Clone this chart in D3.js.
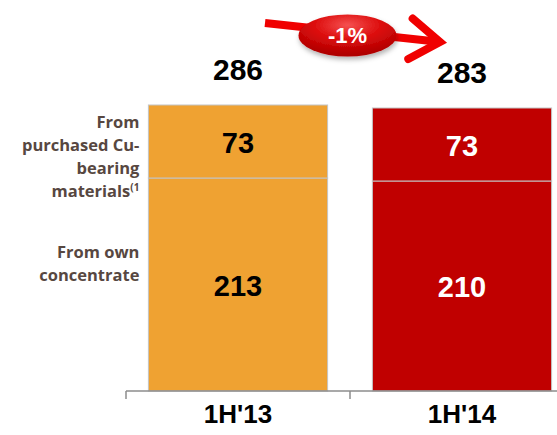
<!DOCTYPE html>
<html>
<head>
<meta charset="utf-8">
<script src="https://cdn.jsdelivr.net/npm/d3@7"></script>
<style>
  body { margin: 0; background: #fff; }
  svg { display: block; }
</style>
</head>
<body>
<svg id="chart" width="557" height="435"></svg>
<script>
// data
var categories = ["1H'13", "1H'14"];
var fromPurchased = [73, 73];
var fromOwn = [213, 210];
var totals = [286, 283];
var seriesLabels = [
  ["From", "purchased Cu-", "bearing", "materials"],
  ["From own", "concentrate"]
];

var barColors = ['#EFA232', '#C00000'];
var labelColors = ['#000', '#fff'];

var svg = d3.select('#chart');

var x = d3.scaleBand()
    .domain(categories)
    .range([126, 574])
    .paddingInner(0.2)
    .paddingOuter(0.1);

var y = d3.scaleLinear()
    .domain([0, 300])
    .range([391, 91]);

var bw = x.bandwidth();

// stacked segments
var rows = categories.map(function(c, i){
    return {cat: c, i: i, own: fromOwn[i], purch: fromPurchased[i], total: totals[i]};
});

var g = svg.append('g');

g.selectAll('.own')
    .data(rows)
    .enter()
    .append('rect')
    .attr('class', 'own')
    .attr('x', function(d){ return x(d.cat); })
    .attr('y', function(d){ return y(d.own); })
    .attr('width', bw)
    .attr('height', function(d){ return y(0) - y(d.own); })
    .attr('fill', function(d){ return barColors[d.i]; })
    .attr('stroke', '#c4c4c4')
    .attr('stroke-width', 1);

g.selectAll('.purch')
    .data(rows)
    .enter()
    .append('rect')
    .attr('class', 'purch')
    .attr('x', function(d){ return x(d.cat); })
    .attr('y', function(d){ return y(d.own + d.purch); })
    .attr('width', bw)
    .attr('height', function(d){ return y(d.own) - y(d.own + d.purch); })
    .attr('fill', function(d){ return barColors[d.i]; })
    .attr('stroke', '#c4c4c4')
    .attr('stroke-width', 1);

// segment labels
function segLabel(cls, val, mid){
    g.selectAll('.' + cls)
	.data(rows)
	.enter()
	.append('text')
	.attr('class', cls)
	.attr('x', function(d){ return x(d.cat) + bw / 2; })
	.attr('y', mid)
	.attr('dy', '0.36em')
	.attr('text-anchor', 'middle')
	.style('font', 'bold 29px "Liberation Sans", Arial, sans-serif')
	.attr('fill', function(d){ return labelColors[d.i]; })
	.text(val);
}
segLabel('own-lbl', function(d){ return d.own; },
	 function(d){ return (y(0) + y(d.own)) / 2 + 1; });
segLabel('purch-lbl', function(d){ return d.purch; },
	 function(d){ return (y(d.own) + y(d.own + d.purch)) / 2 + 1.5; });

// totals
g.selectAll('.total')
    .data(rows)
    .enter()
    .append('text')
    .attr('class', 'total')
    .attr('x', function(d){ return x(d.cat) + bw / 2; })
    .attr('y', function(d){ return y(d.total) - 25; })
    .attr('text-anchor', 'middle')
    .style('font', 'bold 30px "Liberation Sans", Arial, sans-serif')
    .attr('fill', '#000')
    .text(function(d){ return d.total; });

// axis
var axisY = y(0);
var step = x.step();
var boundaries = d3.range(categories.length + 1).map(function(i){ return x.range()[0] + i * step; });

svg.append('line')
    .attr('x1', x.range()[0]).attr('x2', x.range()[1])
    .attr('y1', axisY).attr('y2', axisY)
    .attr('stroke', '#8c8c8c').attr('stroke-width', 1.5);

svg.selectAll('.tick')
    .data(boundaries)
    .enter()
    .append('line')
    .attr('class', 'tick')
    .attr('x1', function(d){ return d; }).attr('x2', function(d){ return d; })
    .attr('y1', axisY).attr('y2', axisY + 8)
    .attr('stroke', '#8c8c8c').attr('stroke-width', 1.5);

svg.selectAll('.cat')
    .data(categories)
    .enter()
    .append('text')
    .attr('class', 'cat')
    .attr('x', function(d){ return x(d) + bw / 2; })
    .attr('y', axisY + 32)
    .attr('text-anchor', 'middle')
    .style('font', 'bold 26px "Liberation Sans", Arial, sans-serif')
    .attr('fill', '#000')
    .text(function(d){ return d; });

// left series labels
var lx = x(categories[0]) - 9;
var lblStyle = 'bold 16.5px "Open Sans", "Noto Sans", sans-serif';
var brown = '#574741';

var t1 = svg.append('text')
    .attr('text-anchor', 'end')
    .style('font', lblStyle)
    .attr('fill', brown);
seriesLabels[0].forEach(function(s, i){
    var ts = t1.append('tspan')
	.attr('x', lx)
	.attr('y', y(totals[0]) + 23 + i * 23)
	.text(s);
    if(i == seriesLabels[0].length - 1){
	t1.append('tspan')
	    .attr('dy', -6)
	    .style('font-size', '10px')
	    .text('(1');
    }
});

var t2 = svg.append('text')
    .attr('text-anchor', 'end')
    .style('font', lblStyle)
    .attr('fill', brown);
seriesLabels[1].forEach(function(s, i){
    t2.append('tspan')
	.attr('x', lx)
	.attr('y', y(fromOwn[0]) + 80 + i * 23)
	.text(s);
});

// change arrow
var defs = svg.append('defs');
var grad = defs.append('radialGradient')
    .attr('id', 'bubble')
    .attr('cx', '50%').attr('cy', '25%').attr('r', '70%');
grad.append('stop').attr('offset', '0%').attr('stop-color', '#f55050');
grad.append('stop').attr('offset', '50%').attr('stop-color', '#dc0c0c');
grad.append('stop').attr('offset', '100%').attr('stop-color', '#b00000');

var shadow = defs.append('filter').attr('id', 'shadow')
    .attr('x', '-30%').attr('y', '-30%').attr('width', '160%').attr('height', '170%');
shadow.append('feDropShadow')
    .attr('dx', 1).attr('dy', 3).attr('stdDeviation', 2.5)
    .attr('flood-color', '#000').attr('flood-opacity', 0.3);

var ax1 = x(categories[0]) + bw / 2 + 27, ay1 = y(totals[0]) - 82;
var ax2 = x(categories[1]) + bw / 2 - 22, ay2 = y(totals[1]) - 66;
var arrowColor = '#f00000';

svg.append('line')
    .attr('x1', ax1).attr('y1', ay1)
    .attr('x2', ax2 - 4).attr('y2', ay2 - 0.5)
    .attr('stroke', arrowColor).attr('stroke-width', 8);

var ang = Math.atan2(ay2 - ay1, ax2 - ax1);
function headPt(a){
    return [ax2 - 36 * Math.cos(ang + a), ay2 - 36 * Math.sin(ang + a)];
}
var hp = [headPt(0.6), [ax2, ay2], headPt(-0.6)];
svg.append('path')
    .attr('d', d3.line()(hp))
    .attr('fill', 'none')
    .attr('stroke', arrowColor)
    .attr('stroke-width', 8)
    .attr('stroke-linecap', 'round')
    .attr('stroke-linejoin', 'miter');

var cx = (ax1 + ax2) / 2 - 5, cy = (ay1 + ay2) / 2 + 3;
svg.append('ellipse')
    .attr('cx', cx).attr('cy', cy)
    .attr('rx', 49).attr('ry', 21)
    .attr('fill', 'url(#bubble)')
    .attr('filter', 'url(#shadow)');

var change = Math.round((totals[1] - totals[0]) / totals[0] * 100);
svg.append('text')
    .attr('x', cx).attr('y', cy)
    .attr('dy', '0.36em')
    .attr('text-anchor', 'middle')
    .style('font', 'bold 22px "Liberation Sans", Arial, sans-serif')
    .attr('fill', '#fff')
    .text((change > 0 ? '+' : '') + change + '%');
</script>
</body>
</html>
